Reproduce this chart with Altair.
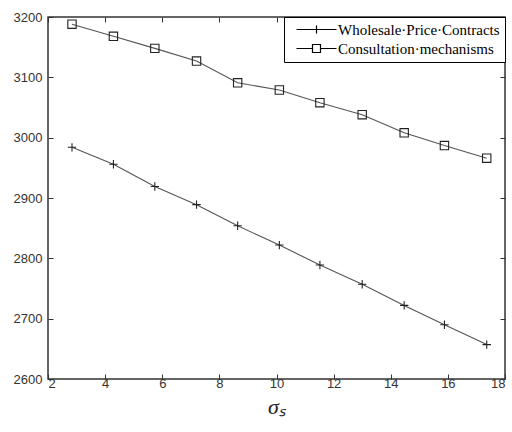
import altair as alt
import pandas as pd

sigma = [2.84, 4.29, 5.74, 7.20, 8.64, 10.10, 11.52, 13.00, 14.47, 15.88, 17.36]
wholesale = [2984, 2956, 2919, 2889, 2854, 2822, 2789, 2757, 2722, 2690, 2657]
consult = [3188, 3168, 3148, 3127, 3091, 3079, 3058, 3038, 3008, 2987, 2966]
names = ["Wholesale·Price·Contracts", "Consultation·mechanisms"]
x_ticks = [2, 4, 6, 8, 10, 12, 14, 16, 18]
y_ticks = [2600, 2700, 2800, 2900, 3000, 3100, 3200]

rows = []
for s, w, c in zip(sigma, wholesale, consult):
    rows.append({"sigma": s, "value": w, "series": names[0]})
    rows.append({"sigma": s, "value": c, "series": names[1]})
df = pd.DataFrame(rows)

cross_path = "M-1,0H1M0,-1V1"
leg_cross = "M-20,0H20M0,-4V4"
leg_square = "M-20,0H-4M4,0H20M-4,-4H4V4H-4Z"

xs = alt.Scale(domain=[2, 18], nice=False, zero=False)
ys = alt.Scale(domain=[2600, 3200], nice=False, zero=False)

x_bottom = alt.X("sigma:Q", scale=xs, axis=alt.Axis(
    values=x_ticks, orient="bottom", offset=-5, tickSize=5, domain=False, grid=False,
    labelPadding=-2, labelFont="Liberation Sans", labelFontSize=13, labelColor="#333",
    tickColor="#333", title="σₛ", titleFont="Liberation Serif", titleFontStyle="italic",
    titleFontWeight="normal", titleFontSize=22, titleColor="#222", titlePadding=6))
y_left = alt.Y("value:Q", scale=ys, axis=alt.Axis(
    values=y_ticks, orient="left", offset=-5, tickSize=5, domain=False, grid=False,
    format="d", labelPadding=6, labelFont="Liberation Sans", labelFontSize=13,
    labelColor="#333", tickColor="#333", title=None))

x_top = alt.X("sigma:Q", scale=xs, axis=alt.Axis(
    values=x_ticks, orient="top", offset=-5, tickSize=5, domain=False, grid=False,
    labels=False, tickColor="#333", title=None))
y_right = alt.Y("value:Q", scale=ys, axis=alt.Axis(
    values=y_ticks, orient="right", offset=-5, tickSize=5, domain=False, grid=False,
    labels=False, tickColor="#333", title=None))

base = alt.Chart(df)

lines = base.mark_line(color="#555", strokeWidth=1.1).encode(
    x=x_bottom, y=y_left, detail="series:N")

markers = base.mark_point(filled=False, color="#222", strokeWidth=1.1, size=70, opacity=1).encode(
    x=alt.X("sigma:Q", scale=xs, axis=None), y=alt.Y("value:Q", scale=ys, axis=None),
    shape=alt.Shape("series:N", scale=alt.Scale(domain=names, range=[cross_path, "square"]),
                    legend=None))

legend_layer = base.mark_point(filled=False, color="black", strokeWidth=1.2, opacity=1).encode(
    x=x_top, y=y_right,
    shape=alt.Shape("series:N", scale=alt.Scale(domain=names, range=[leg_cross, leg_square]),
                    legend=alt.Legend(title=None, orient="top-right", offset=0, padding=5,
                                      fillColor="white", strokeColor="black",
                                      labelFont="Liberation Serif", labelFontSize=15,
                                      labelLimit=400,
                                      labelColor="black", symbolSize=4, symbolStrokeWidth=1.2,
                                      symbolOffset=20, labelOffset=14, rowPadding=3))
).transform_filter("false")

chart = alt.layer(lines, markers, legend_layer).resolve_scale(
    shape="independent").resolve_axis(x="independent", y="independent").properties(
    width=457, height=362,
    autosize=alt.AutoSizeParams(type="none"),
    padding={"left": 48, "top": 17, "right": 7, "bottom": 53},
    background="white",
).configure_view(stroke="#333", strokeWidth=1.5)

chart.save("out.html", embed_options={"renderer": "svg", "actions": False})
